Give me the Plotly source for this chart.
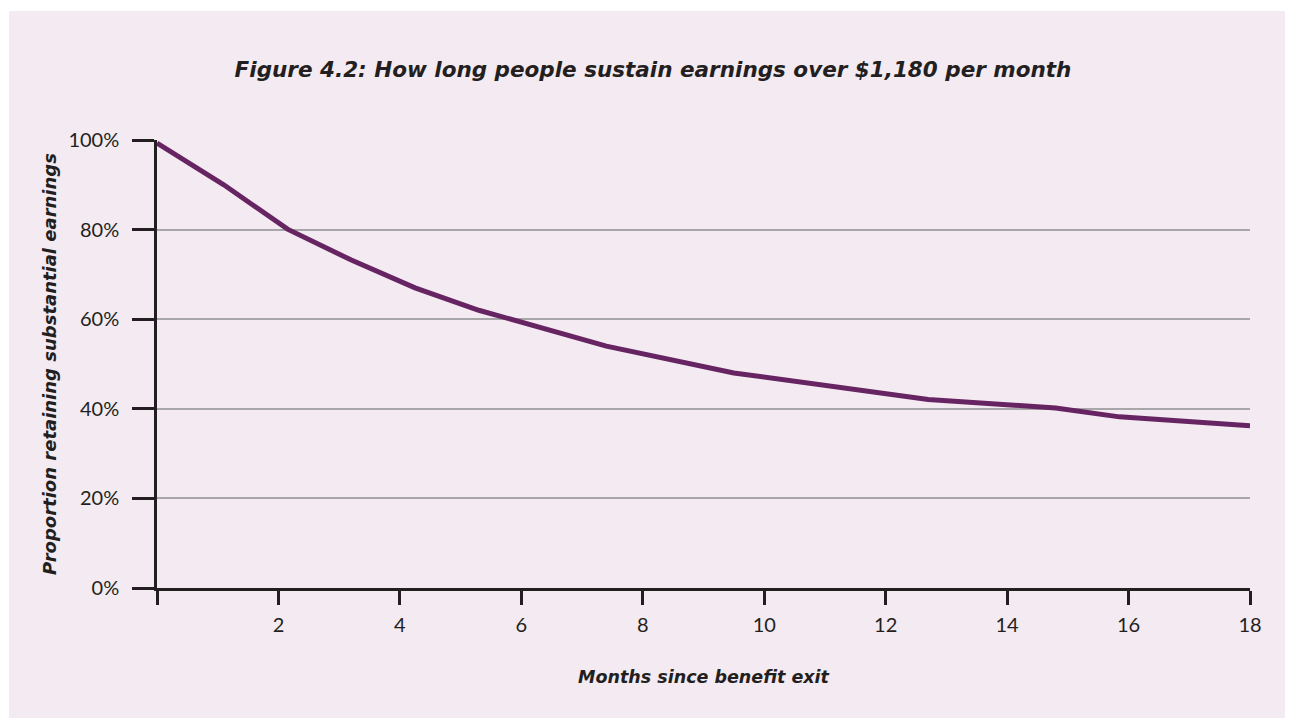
import plotly.graph_objects as go

# months since exit (x) and share still earning > $1,180 (%)
months = [0, 1.1, 2.15, 3.2, 4.25, 5.3, 7.4, 9.5, 12.7, 14.8, 15.85, 18]
retained = [99.3, 90, 80.1, 73.2, 67, 62, 54, 48, 42.1, 40.2, 38.2, 36.2]

x_ticks = [0, 2, 4, 6, 8, 10, 12, 14, 16, 18]
x_labels = ["", "2", "4", "6", "8", "10", "12", "14", "16", "18"]
y_ticks = [0, 20, 40, 60, 80, 100]
y_labels = ["0%", "20%", "40%", "60%", "80%", "100%"]

ink = "#231f20"
bg = "#f4eaf2"

# page body adds an 8px margin, so the figure is 8px smaller than the window
W, H = 1285, 710
ml, mr, mt, mb = 149, 43, 132, 130
pw, ph = W - ml - mr, H - mt - mb

fig = go.Figure()
fig.add_trace(go.Scatter(
    x=months, y=retained, mode="lines",
    line=dict(color="#672462", width=5),
    hoverinfo="skip", showlegend=False,
))

# pink panel behind everything
fig.add_shape(type="rect", xref="paper", yref="paper", layer="below",
              x0=(1 - ml) / pw, x1=(W - ml + 5) / pw,
              y0=-(mb + 5) / ph, y1=(H - 3 - mb) / ph,
              fillcolor=bg, line_width=0)

title_font = dict(family="DejaVu Sans", color=ink, weight="bold", style="italic")

fig.update_layout(
    width=W, height=H,
    margin=dict(l=ml, r=mr, t=mt, b=mb),
    paper_bgcolor="white", plot_bgcolor="rgba(0,0,0,0)",
    title=dict(text="Figure 4.2: How long people sustain earnings over $1,180 per month",
               x=645 / W, xanchor="center", y=1 - 61 / H, yanchor="middle",
               font=dict(title_font, size=21.5)),
    font=dict(family="Lato", size=20, color=ink),
)

fig.update_xaxes(
    range=[0, 18], tickvals=x_ticks, ticktext=x_labels,
    showline=True, linecolor=ink, linewidth=2.5,
    ticks="outside", ticklen=14, tickwidth=2.5, tickcolor=ink,
    showgrid=False, zeroline=False, ticklabelstandoff=3,
    tickfont=dict(family="Lato", size=20, color=ink),
    title=dict(text="Months since benefit exit", standoff=36,
               font=dict(title_font, size=17.5)),
)
fig.update_yaxes(
    range=[0, 100], tickvals=y_ticks, ticktext=y_labels,
    showline=True, linecolor=ink, linewidth=2.5,
    ticks="outside", ticklen=22, tickwidth=2.5, tickcolor=ink,
    showgrid=True, gridcolor="#a8a6a8", gridwidth=1.5, zeroline=False,
    ticklabelstandoff=9,
    tickfont=dict(family="Lato", size=20, color=ink),
    title=dict(text="Proportion retaining substantial earnings", standoff=8,
               font=dict(title_font, size=18)),
)

fig.write_html("out.html")
